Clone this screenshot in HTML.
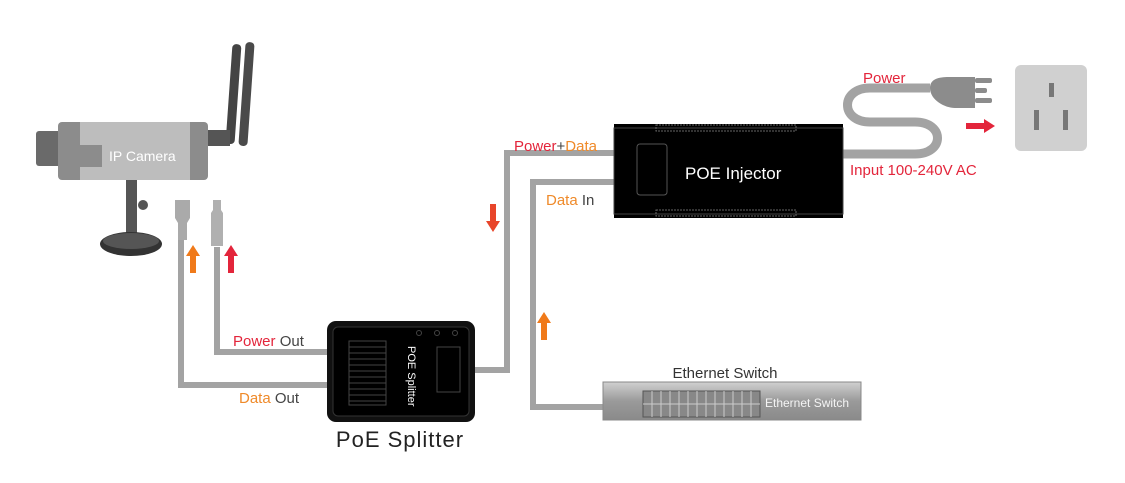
<!DOCTYPE html>
<html><head><meta charset="utf-8"><style>
body{margin:0;background:#fff}
svg{display:block;font-family:"Liberation Sans",sans-serif}
</style></head><body>
<svg width="1125" height="483" viewBox="0 0 1125 483">
<rect width="1125" height="483" fill="#fff"/>
<!-- cables -->
<g fill="none" stroke="#a3a3a3" stroke-width="6">
<polyline points="181,240 181,385 330,385"/>
<polyline points="217,247 217,352 330,352"/>
<polyline points="474,370 507,370 507,153 616,153"/>
<polyline points="616,182 533,182 533,407 605,407"/>
<path d="M842,154 H915 C945,154 945,122 915,122 H870 C840,122 840,88 870,88 H930" stroke-width="9"/>
</g>
<!-- camera -->
<rect x="229" y="44" width="9" height="100" rx="4" fill="#444" transform="rotate(4 233 94)"/>
<rect x="242" y="42" width="9" height="104" rx="4" fill="#4a4a4a" transform="rotate(4 246 94)"/>
<rect x="205" y="130" width="25" height="16" fill="#555"/>
<rect x="36" y="131" width="26" height="35" rx="3" fill="#6a6a6a"/>
<rect x="58" y="122" width="150" height="58" rx="4" fill="#8c8c8c"/>
<rect x="80" y="122" width="110" height="58" fill="#bdbdbd"/>
<rect x="80" y="145" width="22" height="22" fill="#8c8c8c"/>
<text x="109" y="161" font-size="14" fill="#fff">IP Camera</text>
<rect x="126" y="180" width="11" height="62" fill="#555"/>
<circle cx="143" cy="205" r="5" fill="#555"/>
<ellipse cx="131" cy="244" rx="31" ry="12" fill="#333"/>
<ellipse cx="131" cy="241" rx="28" ry="8" fill="#555"/>
<path d="M175,200 h15 v18 l-3,5 v17 h-9 v-17 l-3,-5z" fill="#aaa"/>
<path d="M213,200 h8 v10 l2,3 v33 h-12 v-33 l2,-3z" fill="#b0b0b0"/>
<!-- arrows -->
<path d="M193,245 l-7,11 h4 v17 h6 v-17 h4z" fill="#f07a1a"/>
<path d="M231,245 l-7,11 h4 v17 h6 v-17 h4z" fill="#e3253b"/>
<path d="M493,232 l-7,-11 h4 v-17 h6 v17 h4z" fill="#e8452a"/>
<path d="M544,312 l-7,11 h4 v17 h6 v-17 h4z" fill="#f07a1a"/>
<path d="M995,126 l-11,-7 v4 h-18 v6 h18 v4z" fill="#e3253b"/>
<!-- splitter -->
<rect x="327" y="321" width="148" height="101" rx="9" fill="#111"/>
<rect x="333" y="327" width="136" height="89" rx="5" fill="#000" stroke="#333"/>
<g stroke="#444" stroke-width="1">
<rect x="349" y="341" width="37" height="64" fill="none"/>
<path d="M349,347h37M349,353h37M349,359h37M349,365h37M349,371h37M349,377h37M349,383h37M349,389h37M349,395h37M349,401h37"/>
<rect x="437" y="347" width="23" height="45" fill="none"/>
<circle cx="419" cy="333" r="2.5" fill="none"/><circle cx="437" cy="333" r="2.5" fill="none"/><circle cx="455" cy="333" r="2.5" fill="none"/>
</g>
<text x="0" y="0" font-size="11" fill="#fff" transform="translate(408,346) rotate(90)">POE Splitter</text>
<text x="400" y="447" font-size="22" fill="#222" text-anchor="middle" letter-spacing="1">PoE Splitter</text>
<text x="233" y="346" font-size="15"><tspan fill="#e3253b">Power</tspan><tspan fill="#444"> Out</tspan></text>
<text x="239" y="403" font-size="15"><tspan fill="#ef8a2a">Data</tspan><tspan fill="#444"> Out</tspan></text>
<!-- injector -->
<rect x="614" y="124" width="229" height="94" fill="#000"/>
<rect x="614" y="128" width="229" height="86" fill="none" stroke="#444"/>
<rect x="656" y="125" width="140" height="6" fill="none" stroke="#666" stroke-dasharray="2,1"/>
<rect x="656" y="210" width="140" height="6" fill="none" stroke="#666" stroke-dasharray="2,1"/>
<rect x="637" y="144" width="30" height="51" rx="3" fill="none" stroke="#555"/>
<text x="685" y="179" font-size="17" fill="#fff">POE Injector</text>
<text x="514" y="151" font-size="15"><tspan fill="#e3253b">Power</tspan><tspan fill="#444">+</tspan><tspan fill="#ef8a2a">Data</tspan></text>
<text x="546" y="205" font-size="15"><tspan fill="#ef8a2a">Data</tspan><tspan fill="#444"> In</tspan></text>
<text x="850" y="175" font-size="15" fill="#e3253b">Input 100-240V AC</text>
<text x="863" y="83" font-size="15" fill="#e3253b">Power</text>
<!-- plug -->
<path d="M930,88 C930,76 945,77 955,77 H975 V108 H955 C945,108 930,100 930,88z" fill="#8c8c8c"/>
<rect x="975" y="78" width="17" height="5" rx="2" fill="#8c8c8c"/>
<rect x="975" y="88" width="12" height="5" rx="2" fill="#8c8c8c"/>
<rect x="975" y="98" width="17" height="5" rx="2" fill="#8c8c8c"/>
<rect x="1015" y="65" width="72" height="86" rx="6" fill="#d0d0d0"/>
<rect x="1049" y="83" width="5" height="14" fill="#777"/>
<rect x="1034" y="110" width="5" height="20" fill="#777"/>
<rect x="1063" y="110" width="5" height="20" fill="#777"/>
<!-- switch -->
<text x="725" y="378" font-size="15" fill="#333" text-anchor="middle">Ethernet Switch</text>
<defs><linearGradient id="sg" x1="0" y1="0" x2="0" y2="1"><stop offset="0" stop-color="#d0d0d0"/><stop offset="0.5" stop-color="#9a9a9a"/><stop offset="1" stop-color="#8a8a8a"/></linearGradient></defs>
<rect x="603" y="382" width="258" height="38" fill="url(#sg)" stroke="#888"/>
<rect x="643" y="391" width="117" height="26" fill="#888" stroke="#555"/>
<g stroke="#ccc" stroke-width="1" fill="none">
<path d="M643,404h117"/>
<path d="M652,391v26M661,391v26M670,391v26M679,391v26M688,391v26M697,391v26M706,391v26M715,391v26M724,391v26M733,391v26M742,391v26M751,391v26"/>
</g>
<text x="765" y="407" font-size="12" fill="#f4f4f4">Ethernet Switch</text>
</svg>
</body></html>
